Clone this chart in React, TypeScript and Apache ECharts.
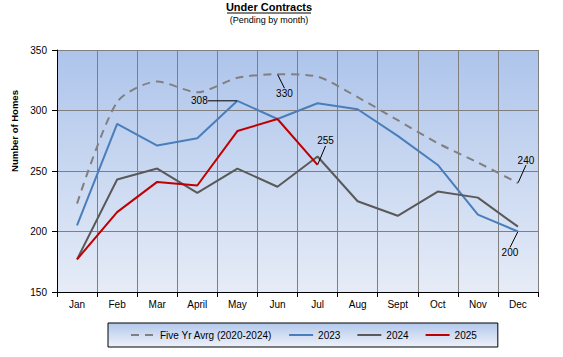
import React, { useEffect, useRef } from "react";
import * as echarts from "echarts";

const months = ["Jan", "Feb", "Mar", "April", "May", "Jun", "Jul", "Aug", "Sept", "Oct", "Nov", "Dec"];
const fiveYrAvg = [223, 307, 324, 315, 327, 330, 328, 311, 292, 273, 257, 240];
const y2023 = [205, 289, 271, 277, 308, 293, 306, 301, 279, 255, 214, 200];
const y2024 = [177, 243, 252, 232, 252, 237, 262, 225, 213, 233, 228, 204];
const y2025 = [177, 216, 241, 238, 283, 293, 255];
const yTicks = { min: 150, max: 350, interval: 50 };

// which points carry a data label, and where the label sits relative to the point
const labelSpots: Record<string, Record<number, [number, number]>> = {
  "Five Yr Avrg (2020-2024)": { 5: [7, 19], 11: [8, -23] },
  "2023": { 4: [-38, 0], 11: [-8, 21] },
  "2025": { 6: [8, -24] },
};

const FONT = "'Liberation Sans', Arial, sans-serif";

function withLabels(name: string, values: number[]) {
  const spots = labelSpots[name] || {};
  return values.map((v, i) =>
    spots[i]
      ? { value: v, label: { show: true, position: "inside", color: "#000", opacity: 1, fontSize: 10, fontFamily: FONT } }
      : v
  );
}

function layoutFor(name: string) {
  const spots = labelSpots[name] || {};
  return (p: any) => {
    const s = spots[p.dataIndex];
    return s ? { dx: s[0], dy: s[1] } : {};
  };
}

export default function App() {
  const ref = useRef<HTMLDivElement>(null);
  useEffect(() => {
    const chart = echarts.init(ref.current!, null, { renderer: "svg" });
    const lineSeries = (name: string, values: number[], color: string, type: any, smooth: any) => ({
      name,
      type: "line",
      data: withLabels(name, values),
      smooth,
      symbol: "circle",
      symbolSize: 1,
      showSymbol: true,
      itemStyle: { color: "rgba(0,0,0,0)", borderWidth: 0 },
      lineStyle: { color, width: 2, type },
      labelLine: { show: true, lineStyle: { color: "#000", width: 1 } },
      labelLayout: layoutFor(name),
      emphasis: { disabled: true },
    });
    chart.setOption({
      animation: false,
      backgroundColor: "#fff",
      textStyle: { fontFamily: FONT },
      graphic: [
        {
          type: "text",
          x: 269,
          y: 7,
          style: { text: "Under Contracts", fontSize: 11, fontWeight: "bold", fontFamily: FONT, fill: "#000", align: "center", verticalAlign: "middle" },
        },
        { type: "line", shape: { x1: 227, y1: 13, x2: 311, y2: 13 }, style: { stroke: "#000", lineWidth: 1 } },
        {
          type: "text",
          x: 269,
          y: 20,
          style: { text: "(Pending by month)", fontSize: 9, fontFamily: FONT, fill: "#000", align: "center", verticalAlign: "middle" },
        },
        {
          type: "text",
          x: 14,
          y: 131,
          rotation: Math.PI / 2,
          style: { text: "Number of Homes", fontSize: 9.5, fontWeight: "bold", fontFamily: FONT, fill: "#000", align: "center", verticalAlign: "middle" },
        },
      ],
      grid: {
        left: 57,
        right: 25,
        top: 50,
        bottom: 65,
        show: true,
        borderWidth: 0,
        backgroundColor: new echarts.graphic.LinearGradient(0, 0, 0, 1, [
          { offset: 0, color: "#adc4eb" },
          { offset: 1, color: "#e6ecf7" },
        ]),
      },
      legend: {
        left: 108,
        top: 323,
        padding: [7, 21, 7, 22],
        itemWidth: 24,
        itemHeight: 12,
        itemGap: 16,
        borderColor: "#000",
        borderWidth: 1,
        backgroundColor: new echarts.graphic.LinearGradient(0, 0, 0, 1, [
          { offset: 0, color: "#b3c8ec" },
          { offset: 1, color: "#eef2fa" },
        ]),
        textStyle: { fontSize: 10, color: "#000", fontFamily: FONT },
        data: ["Five Yr Avrg (2020-2024)", "2023", "2024", "2025"],
      },
      xAxis: {
        type: "category",
        data: months,
        boundaryGap: true,
        axisLine: { show: true, lineStyle: { color: "#000", width: 1 } },
        axisTick: { show: true, length: 5, lineStyle: { color: "#000" } },
        axisLabel: { fontSize: 10, color: "#000", margin: 7, fontFamily: FONT },
        splitLine: { show: true, lineStyle: { color: "#7f7f7f", width: 1 } },
      },
      yAxis: {
        type: "value",
        min: yTicks.min,
        max: yTicks.max,
        interval: yTicks.interval,
        axisLine: { show: true, lineStyle: { color: "#000", width: 1 } },
        axisTick: { show: true, length: 5, lineStyle: { color: "#000" } },
        axisLabel: { fontSize: 10, color: "#000", margin: 10, fontFamily: FONT },
        splitLine: { show: true, lineStyle: { color: "#7f7f7f", width: 1 } },
      },
      series: [
        lineSeries("Five Yr Avrg (2020-2024)", fiveYrAvg, "#808080", [8, 6], 0.25),
        lineSeries("2023", y2023, "#4a7ebb", "solid", false),
        lineSeries("2024", y2024, "#595959", "solid", false),
        lineSeries("2025", y2025, "#c00000", "solid", false),
      ],
    });
    return () => chart.dispose();
  }, []);
  return <div ref={ref} style={{ width: 563, height: 357, position: "absolute", left: 0, top: 0 }} />;
}
